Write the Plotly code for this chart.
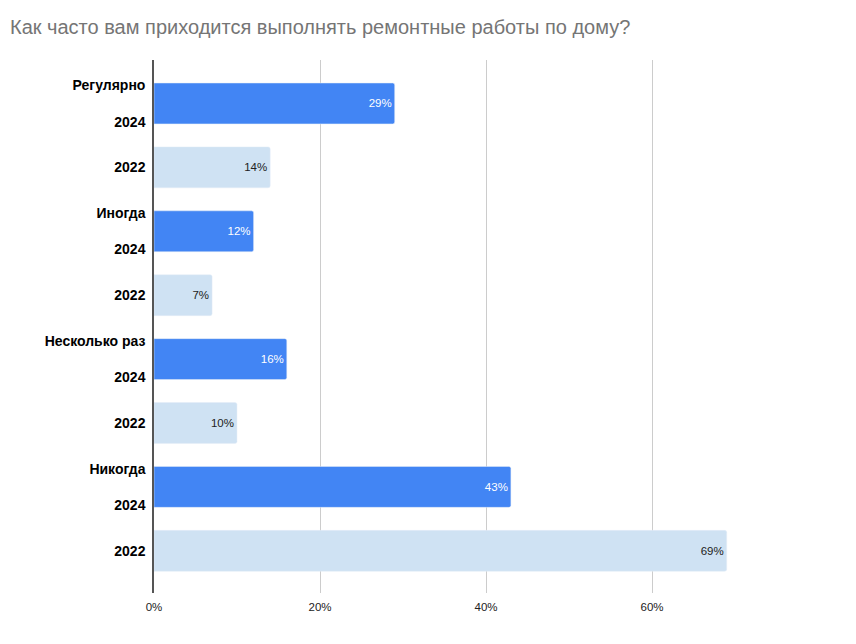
import plotly.graph_objects as go

groups = ["Регулярно", "Иногда", "Несколько раз", "Никогда"]
values_2024 = [29, 12, 16, 43]
values_2022 = [14, 7, 10, 69]

pos_2024 = [2 * i for i in range(len(groups))]
pos_2022 = [2 * i + 1 for i in range(len(groups))]

tick_vals = []
tick_text = []
for i, g in enumerate(groups):
    tick_vals += [pos_2024[i], pos_2022[i]]
    tick_text += [f"<b>{g}</b><br><br><b>2024</b>", "<b>2022</b>"]

fig = go.Figure()
fig.add_trace(go.Bar(
    x=values_2024, y=pos_2024, orientation="h", width=0.64,
    marker=dict(color="#4285F4", cornerradius=2),
    text=[f"{v}%" for v in values_2024], textposition="inside",
    insidetextanchor="end", textfont=dict(color="white", size=11.5),
    name="2024"
))
fig.add_trace(go.Bar(
    x=values_2022, y=pos_2022, orientation="h", width=0.64,
    marker=dict(color="#CFE2F3", cornerradius=2),
    text=[f"{v}%" for v in values_2022], textposition="inside",
    insidetextanchor="end", textfont=dict(color="#222222", size=11.5),
    name="2022"
))

fig.update_layout(
    width=856, height=644,
    margin=dict(l=146, r=64, t=52, b=59),
    paper_bgcolor="white", plot_bgcolor="white",
    font=dict(family="Liberation Sans, Arial, sans-serif"),
    showlegend=False,
    barmode="overlay",
    title=dict(
        text="Как часто вам приходится выполнять ремонтные работы по дому?",
        font=dict(size=20, color="#757575"),
        x=2 / 856, xref="container", xanchor="left",
        y=1 - 19 / 644, yref="container", yanchor="middle",
    ),
    xaxis=dict(
        range=[0, 646 / 8.3], tickvals=[0, 20, 40, 60],
        ticktext=["0%", "20%", "40%", "60%"],
        showgrid=True, gridcolor="#cccccc", zeroline=False,
        tickfont=dict(size=11.5, color="#222222"), ticks="",
        ticklabelstandoff=5, automargin=False,
    ),
    yaxis=dict(
        range=[7.66, -0.68], tickvals=tick_vals, ticktext=tick_text,
        showgrid=False, zeroline=False, showline=True,
        linecolor="#555555", linewidth=1.5,
        tickfont=dict(size=14, color="#000000"), ticks="",
        ticklabelstandoff=4, automargin=False,
    ),
)

fig.write_html("out.html")
